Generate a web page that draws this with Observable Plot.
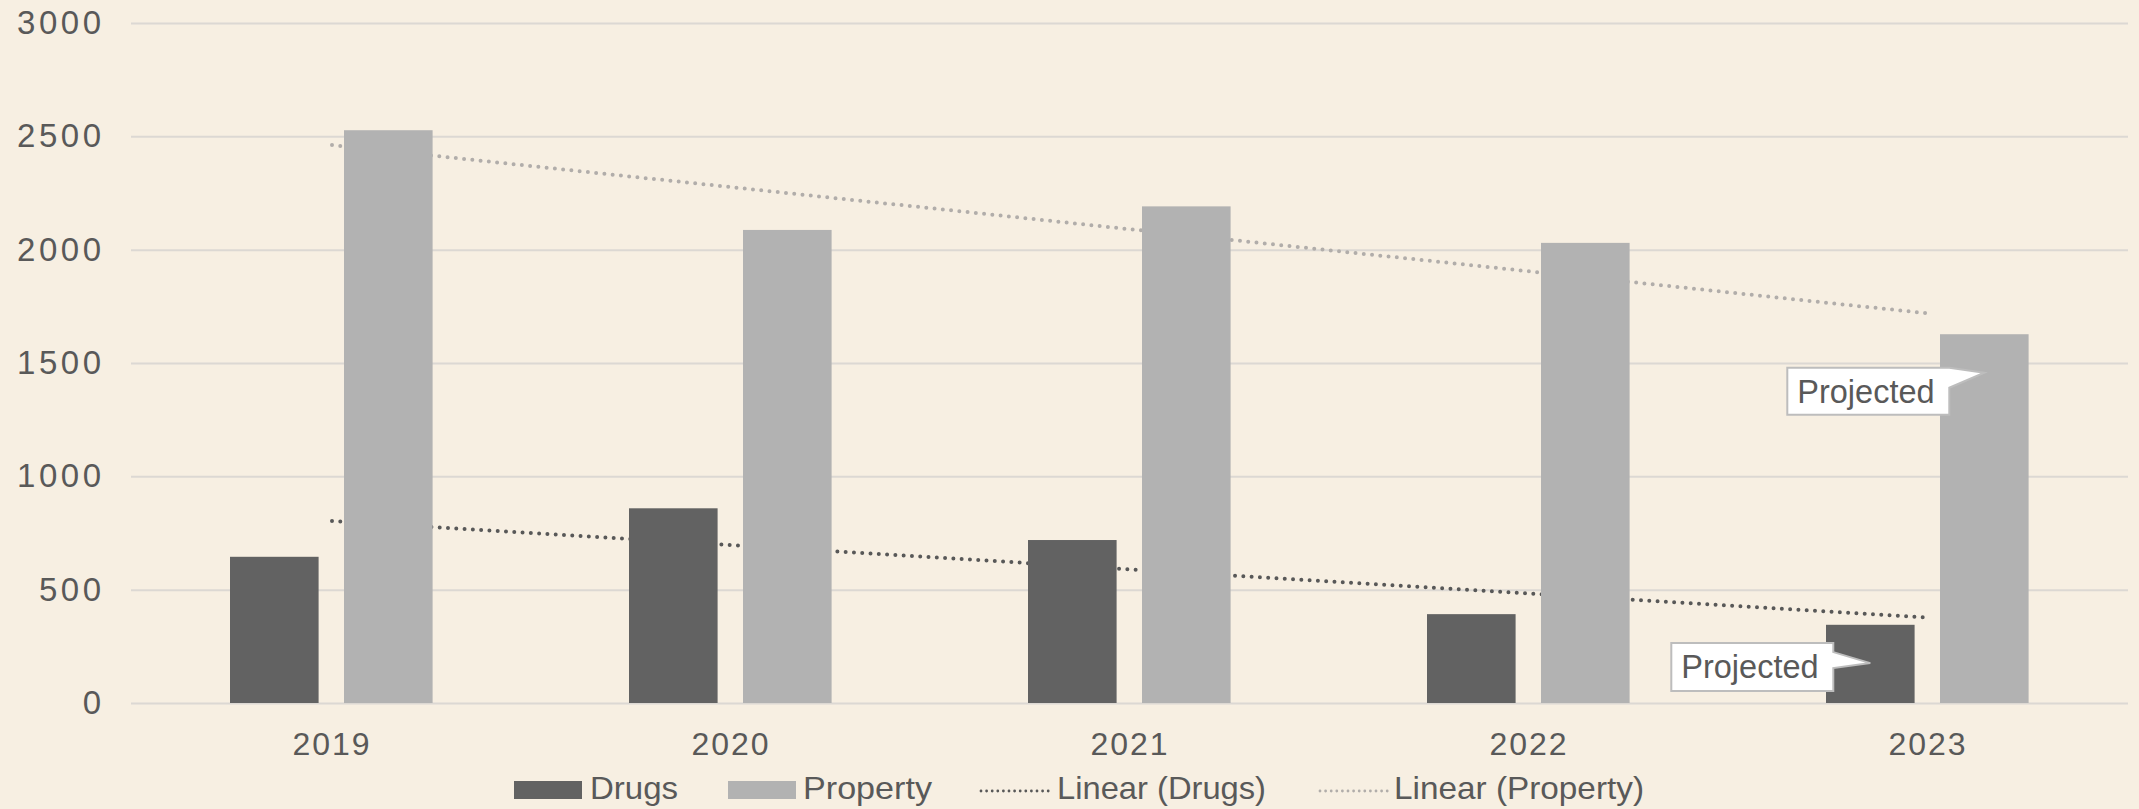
<!DOCTYPE html>
<html><head><meta charset="utf-8">
<script src="https://cdn.jsdelivr.net/npm/d3@7"></script>
<script src="https://cdn.jsdelivr.net/npm/@observablehq/plot@0.6"></script>
<style>
html,body{margin:0;padding:0;background:#f7efe2;}
#chart{width:2139px;height:809px;overflow:hidden;font-family:"Liberation Sans",Arial,sans-serif;color:#595959;}
#chart svg{display:block;}
#chart g[aria-label^="x-axis"] text{letter-spacing:2px;}
#chart g[aria-label^="y-axis"] text{letter-spacing:3.5px;font-size:33px;}
</style></head><body><div id="chart"></div>
<script>
// ---- data ----
const years = ["2019", "2020", "2021", "2022", "2023"];
const drugs = [645, 859, 719, 392, 345];
const property = [2527, 2087, 2191, 2030, 1627];
const seriesNames = ["Drugs", "Property"];
const trendNames = ["Linear (Drugs)", "Linear (Property)"];
const yTicks = [0, 500, 1000, 1500, 2000, 2500, 3000];
const calloutYears = ["2023", "2023"];
const calloutSeries = ["Property", "Drugs"];
const calloutValues = [1457, 176];
const calloutLabels = ["Projected", "Projected"];

// ---- styles ----
const seriesColors = ["#626262", "#b2b2b2"];
const trendColors = ["#585858", "#b1adaa"];
const textColor = "#595959";
const W = 2139, H = 760;
const barInsets = {Drugs: [98, 212.4], Property: [212, 98.4]};
// callout box geometry relative to the tip (px)
const calloutGeom = [
  {box: [-197, -35, -5, 42], wedge: [0, 20]},
  {box: [-199, -37, -20, 28], wedge: [9, 25]}
];

// ---- derived tables ----
function fit(vals) {
  const xs = vals.map((_, i) => i + 1);
  const mx = d3.mean(xs), my = d3.mean(vals);
  const b = d3.sum(xs.map((x, i) => (x - mx) * (vals[i] - my))) / d3.sum(xs.map(x => (x - mx) ** 2));
  return xs.map(x => my + b * (x - mx));
}
const seriesVals = [drugs, property];
const bars = seriesNames.map((s, k) => years.map((y, i) => ({year: y, series: s, value: seriesVals[k][i]})));
const trends = seriesVals.map(v => fit(v).map((t, i) => ({year: years[i], value: t})));

const plot = Plot.plot({
  width: W, height: H,
  marginLeft: 131, marginRight: 11, marginTop: 23, marginBottom: 57,
  style: {background: "transparent", fontFamily: "'Liberation Sans', Arial, sans-serif", fontSize: "32px", color: textColor, overflow: "visible"},
  x: {type: "band", domain: years, padding: 0, tickSize: 0, tickPadding: 29, label: null},
  y: {domain: [0, 3000], ticks: yTicks, tickSize: 0, tickPadding: 27, label: null, tickFormat: d => String(d)},
  marks: [
    Plot.ruleY(yTicks, {stroke: "#dcd8d3", strokeWidth: 2}),
    ...trends.map((t, k) => Plot.line(t, {x: "year", y: "value", stroke: trendColors[k], strokeWidth: 4, strokeDasharray: "0,8.3", strokeLinecap: "round"})),
    ...bars.map((b, k) => Plot.barY(b, {x: "year", y: "value", fill: seriesColors[k], insetLeft: barInsets[seriesNames[k]][0], insetRight: barInsets[seriesNames[k]][1]}))
  ]
});
document.getElementById("chart").appendChild(plot);

// ---- callouts, positioned via the plot's scales ----
const sx = plot.scale("x"), sy = plot.scale("y");
const bw = sx.bandwidth;
const g = d3.select(plot).append("g").attr("aria-label", "callouts");
calloutYears.forEach((yr, i) => {
  const [il, ir] = barInsets[calloutSeries[i]];
  const tx = sx.apply(yr) + il + (bw - il - ir) / 2;
  const ty = sy.apply(calloutValues[i]);
  const {box, wedge} = calloutGeom[i];
  const L = tx + box[0], R = tx + box[1], T = ty + box[2], B = ty + box[3];
  const path = `M${L},${T}L${R},${T}L${R},${T + wedge[0]}L${tx},${ty}L${R},${T + wedge[1]}L${R},${B}L${L},${B}Z`;
  g.append("path").attr("d", path).attr("fill", "#ffffff").attr("stroke", "#bdbdbd").attr("stroke-width", 2).attr("stroke-linejoin", "miter");
  g.append("text").attr("x", L + 10).attr("y", T + 35).attr("fill", textColor).attr("text-anchor", "start")
    .attr("font-size", 32.5).attr("font-family", "'Liberation Sans', Arial, sans-serif").text(calloutLabels[i]);
});

// ---- legend below ----
const leg = d3.select("#chart").append("svg").attr("width", W).attr("height", 809 - H)
  .attr("font-family", "'Liberation Sans', Arial, sans-serif").attr("font-size", 32);
const items = [
  {kind: "rect", color: seriesColors[0], label: seriesNames[0], x: 514, tx: 590, tl: 88},
  {kind: "rect", color: seriesColors[1], label: seriesNames[1], x: 728, tx: 803, tl: 129},
  {kind: "line", color: trendColors[0], label: trendNames[0], x: 981, tx: 1057, tl: 209},
  {kind: "line", color: trendColors[1], label: trendNames[1], x: 1320, tx: 1394, tl: 250}
];
items.forEach(it => {
  if (it.kind === "rect") {
    leg.append("rect").attr("x", it.x).attr("y", 21).attr("width", 68).attr("height", 18).attr("fill", it.color);
  } else {
    leg.append("line").attr("x1", it.x).attr("x2", it.x + 68).attr("y1", 31).attr("y2", 31)
      .attr("stroke", it.color).attr("stroke-width", 2.8).attr("stroke-dasharray", "0,5.6").attr("stroke-linecap", "round");
  }
  leg.append("text").attr("x", it.tx).attr("y", 39).attr("fill", textColor).attr("text-anchor", "start")
    .attr("textLength", it.tl).attr("lengthAdjust", "spacingAndGlyphs").text(it.label);
});
</script>
</body></html>
